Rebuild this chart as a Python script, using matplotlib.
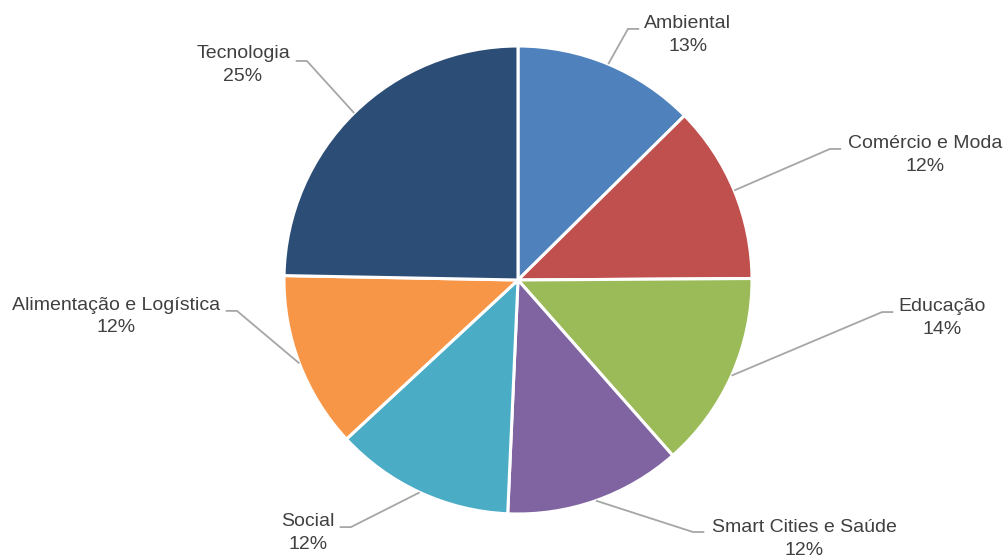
import matplotlib
matplotlib.use('Agg')
import matplotlib.pyplot as plt
import numpy as np

# data
categories = ['Ambiental', 'Comércio e Moda', 'Educação', 'Smart Cities e Saúde',
              'Social', 'Alimentação e Logística', 'Tecnologia']
shares = [12.6, 12.3, 13.6, 12.2, 12.4, 12.2, 24.7]
colors = ['#4F81BD', '#C0504D', '#9BBB59', '#8064A2', '#4BACC6', '#F79646', '#2C4D75']

# label placement (data units, pie radius = 1): text centre and leader elbow
label_xy = [(0.726, 1.098), (1.739, 0.585), (1.812, -0.115), (1.222, -1.056),
            (-0.897, -1.034), (-1.718, -0.107), (-1.175, 0.966)]
elbow_xy = [(0.470, 1.073), (1.333, 0.560), (1.556, -0.137), (0.748, -1.077),
            (-0.714, -1.056), (-1.201, -0.132), (-0.902, 0.936)]

plt.rcParams['font.family'] = ['Liberation Sans', 'DejaVu Sans']

fig = plt.figure(figsize=(10.07, 5.56), dpi=100)
ax = fig.add_axes([0, 0, 1, 1])

wedges, _ = ax.pie(shares, colors=colors, startangle=90, counterclock=False,
                   radius=1.0, center=(0, 0),
                   wedgeprops=dict(edgecolor='white', linewidth=2.2))

line_col = '#A6A6A6'
text_col = '#404040'
seg = 0.048
for w, name, val, (tx, ty), (ex, ey) in zip(wedges, categories, shares, label_xy, elbow_xy):
    mid = np.deg2rad((w.theta1 + w.theta2) / 2)
    sx, sy = np.cos(mid), np.sin(mid)
    side = 1 if tx > ex else -1
    ax.plot([sx, ex, ex + side * seg], [sy, ey, ey], color=line_col, lw=1.3,
            solid_capstyle='butt', zorder=1)
    ax.text(tx, ty, name, ha='center', va='center', fontsize=14, color=text_col)
    ax.text(tx, ty - 0.098, '{}%'.format(int(round(val))), ha='center', va='center',
            fontsize=14, color=text_col)

ax.set_xlim(-518 / 234, (1007 - 518) / 234)
ax.set_ylim((280 - 556) / 234, 280 / 234)
ax.set_aspect('equal')
ax.set_axis_off()

fig.savefig('out.png', dpi=100)
